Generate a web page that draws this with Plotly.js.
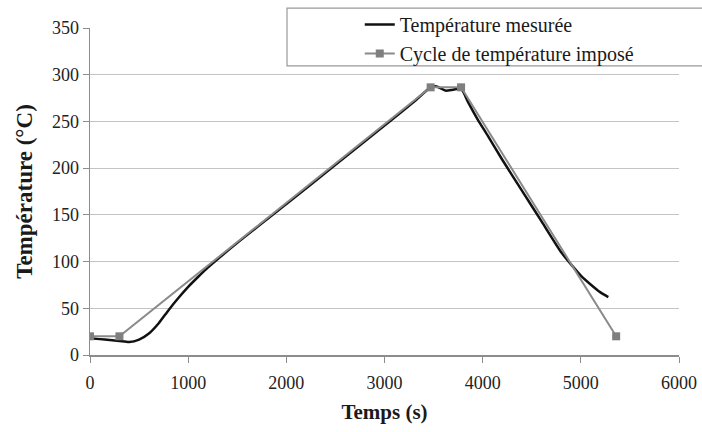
<!DOCTYPE html>
<html>
<head>
<meta charset="utf-8">
<script src="https://cdn.plot.ly/plotly-3.0.1.min.js"></script>
<style>html,body{margin:0;padding:0;background:#fff;}#chart{width:702px;height:432px;}</style>
</head>
<body>
<div id="chart"></div>
<script>
const measuredName = "Température mesurée";
const imposedName = "Cycle de température imposé";

const measuredTime = [0, 100, 200, 300, 400, 500, 600, 700, 800, 900, 1000, 1100, 1200, 1500, 2000, 2500, 3000, 3300, 3470, 3530, 3620, 3700, 3780, 3850, 3950, 4050, 4200, 4400, 4600, 4800, 4900, 5000, 5100, 5200, 5280];
const measuredTemp = [18, 17, 16, 15, 13.8, 16.5, 23, 34, 48, 61, 73, 83.5, 93.5, 120, 161.5, 203.5, 245.5, 271, 286.5, 287.5, 283, 284, 285, 271, 252, 235, 209, 176, 143, 110, 97, 85, 75.5, 67, 62];

const imposedTime = [0, 300, 3470, 3780, 5360];
const imposedTemp = [20, 20, 286.5, 286.5, 20];

const xTicks = [0, 1000, 2000, 3000, 4000, 5000, 6000];
const yTicks = [0, 50, 100, 150, 200, 250, 300, 350];

const serif = "Liberation Serif, Times New Roman, serif";

const traces = [
  {
    x: measuredTime, y: measuredTemp, name: measuredName,
    type: "scatter", mode: "lines",
    line: {color: "#111111", width: 2.5, shape: "spline", smoothing: 0.6}
  },
  {
    x: imposedTime, y: imposedTemp, name: imposedName,
    type: "scatter", mode: "lines+markers",
    line: {color: "#8a8a8a", width: 2},
    marker: {symbol: "square", size: 8, color: "#7f7f7f"}
  }
];

const layout = {
  width: 702, height: 432,
  margin: {l: 90, r: 23, t: 28, b: 77, autoexpand: false},
  paper_bgcolor: "#fff", plot_bgcolor: "#fff",
  font: {family: serif, size: 18, color: "#222"},
  showlegend: true,
  legend: {
    x: 0.458, y: 1.07, xanchor: "left", yanchor: "top",
    bgcolor: "rgba(0,0,0,0)", borderwidth: 0,
    font: {family: serif, size: 20, color: "#1a1a1a"},
    itemwidth: 30, tracegroupgap: 0
  },
  xaxis: {
    range: [0, 6000], tickvals: xTicks, ticktext: xTicks.map(String),
    showgrid: false, zeroline: false,
    showline: true, linecolor: "#8c8c8c", linewidth: 1.5,
    ticks: "outside", ticklen: 6, tickcolor: "#8c8c8c",
    ticklabelstandoff: 5,
    tickfont: {family: serif, size: 18, color: "#222"},
    title: {text: "<b>Temps (s)</b>", font: {family: serif, size: 21, color: "#1a1a1a"}, standoff: 12}
  },
  yaxis: {
    range: [0, 350], tickvals: yTicks, ticktext: yTicks.map(String),
    showgrid: true, gridcolor: "#c4c4c4", gridwidth: 1.2, zeroline: false,
    showline: true, linecolor: "#8c8c8c", linewidth: 1.5,
    ticks: "outside", ticklen: 6, tickcolor: "#8c8c8c",
    tickfont: {family: serif, size: 18, color: "#222"},
    title: {text: "<b>Température (°C)</b>", font: {family: serif, size: 23, color: "#1a1a1a"}, standoff: 13}
  },
  shapes: [
    {type: "rect", xref: "paper", yref: "paper", x0: 0.3345, x1: 1.2, y0: 0.884, y1: 1.061,
     fillcolor: "#ffffff", line: {color: "#999999", width: 1.2}, layer: "above"}
  ]
};

Plotly.newPlot("chart", traces, layout, {displayModeBar: false, staticPlot: true});
</script>
</body>
</html>
